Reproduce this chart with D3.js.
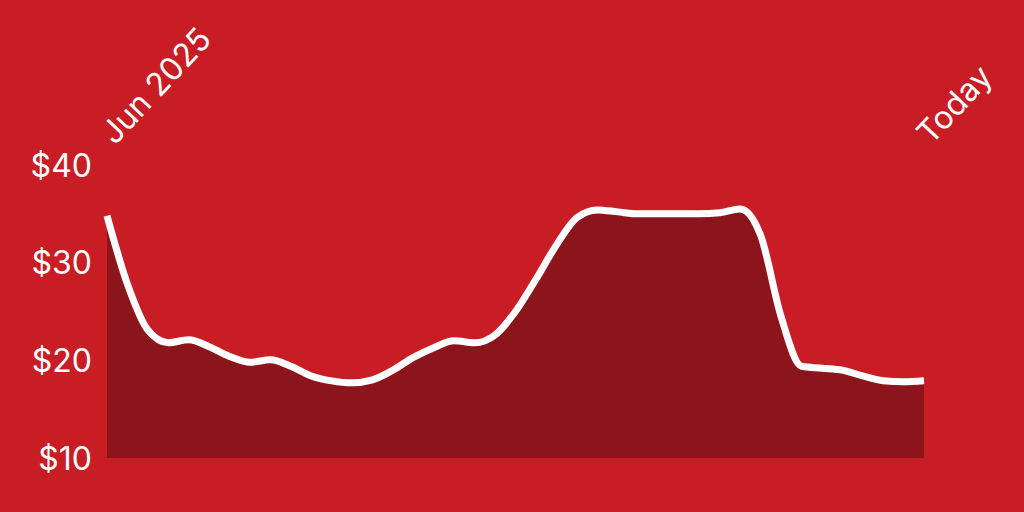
<!DOCTYPE html>
<html>
<head>
<meta charset="utf-8">
<script src="https://cdn.jsdelivr.net/npm/d3@7"></script>
<style>
  html, body { margin: 0; padding: 0; background: #C91D26; }
  svg { display: block; }
</style>
</head>
<body>
<svg id="chart" width="1024" height="512"></svg>
<script>
// ---- data ----
const periodLabels = ["Jun 2025", "Today"];
const prices = [
  34.8, 27.8, 23.1, 21.8, 22.1, 21.4, 20.4, 19.8, 20.05, 19.4,
  18.4, 17.9, 17.7, 18.0, 19.0, 20.3, 21.3, 22.0, 21.8, 22.6,
  25.0, 28.3, 31.8, 34.6, 35.4, 35.2, 35.0, 35.0, 35.0, 35.0,
  35.1, 35.5, 32.8, 24.5, 19.4, 19.2, 19.0, 18.4, 17.9, 17.8, 17.9
];
const yTicks = [10, 20, 30, 40];
const yDomain = [10, 40];

// ---- layout ----
const svg = d3.select("#chart");
const W = 1024, H = 512;
const left = 107, right = 924, bottom = 458, top40 = 165;

svg.append("rect").attr("width", W).attr("height", H).attr("fill", "#C91D26");

const x = d3.scaleLinear().domain([0, prices.length - 1]).range([left, right]);
const y = d3.scaleLinear().domain(yDomain).range([bottom, top40]);

const curve = d3.curveMonotoneX;

svg.append("path")
  .datum(prices)
  .attr("fill", "#8B151B")
  .attr("d", d3.area().x((d, i) => x(i)).y0(y(yDomain[0])).y1(d => y(d)).curve(curve));

svg.append("path")
  .datum(prices)
  .attr("fill", "none")
  .attr("stroke", "#fff")
  .attr("stroke-width", 7)
  .attr("stroke-linejoin", "round")
  .attr("d", d3.line().x((d, i) => x(i)).y(d => y(d)).curve(curve));

// y axis labels
const yAxis = d3.axisLeft(y).tickValues(yTicks).tickFormat(d => "$" + d).tickSize(0).tickPadding(0);
const gy = svg.append("g").attr("transform", "translate(92,0)").call(yAxis);
gy.select(".domain").remove();
gy.selectAll("text")
  .attr("fill", "#fff")
  .attr("font-family", "Inter, 'Liberation Sans', sans-serif")
  .attr("font-size", 32)
  .attr("dy", "0.35em");

// rotated period labels
const xPos = [x(0) + 8, x(prices.length - 1) + 7];
svg.selectAll("text.period")
  .data(periodLabels)
  .join("text")
  .attr("class", "period")
  .attr("transform", (d, i) => `translate(${xPos[i]},146) rotate(-47)`)
  .attr("fill", "#fff")
  .attr("font-family", "Inter, 'Liberation Sans', sans-serif")
  .attr("font-size", 32)
  .text(d => d);
</script>
</body>
</html>
